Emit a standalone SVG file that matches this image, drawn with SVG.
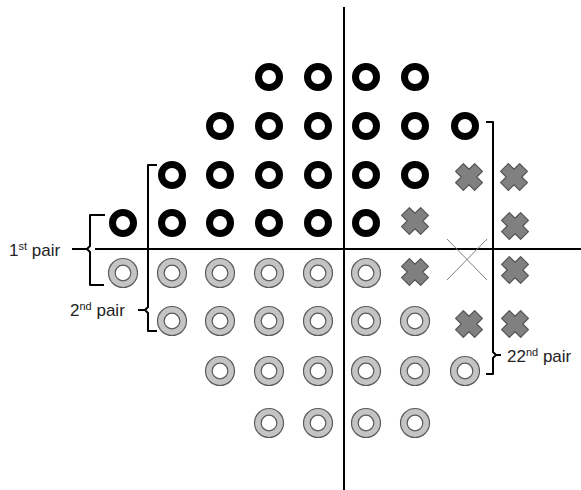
<svg xmlns="http://www.w3.org/2000/svg" xmlns:xlink="http://www.w3.org/1999/xlink" width="581" height="490" viewBox="0 0 581 490">
<style>
.blk{fill:none;stroke:#000;stroke-width:7}
.gry{fill:#c4c4c4;stroke:#5a5a5a;stroke-width:1.2}
.hole{fill:#fff;stroke:#5a5a5a;stroke-width:1.2}
.ax{stroke:#000;stroke-width:2;fill:none}
.br{stroke:#000;stroke-width:2;fill:none;stroke-linejoin:round}
.thin{stroke:#808080;stroke-width:1;fill:none}
.lbl{font-family:"Liberation Sans",Arial,sans-serif;font-size:17px;fill:#222}
.sup{font-size:11px}
</style>
<defs>
<g id="ring"><circle r="10.5" class="blk"/></g>
<g id="gring"><circle r="14.5" class="gry"/><circle r="7.8" class="hole"/></g>
<polygon id="cross" points="-5.5,-13.5 5.5,-13.5 5.5,-5.5 13.5,-5.5 13.5,5.5 5.5,5.5 5.5,13.5 -5.5,13.5 -5.5,5.5 -13.5,5.5 -13.5,-5.5 -5.5,-5.5" transform="rotate(45)" fill="#808080" stroke="#555" stroke-width="1.2" stroke-linejoin="round"/>
</defs>
<rect width="581" height="490" fill="#fff"/>
<g id="connectors">
<line class="ax" x1="95" y1="249" x2="581" y2="249"/>
<line class="ax" x1="344" y1="7" x2="344" y2="490"/>
<line class="thin" x1="447" y1="239" x2="487" y2="280"/>
<line class="thin" x1="487" y1="239" x2="447" y2="280"/>
<path class="br" d="M105,215 H90 V246 L87,249 L90,252 V285 H104"/>
<path class="br" d="M72,249 H87"/>
<path class="br" d="M157,165 H148 V307 L145,310 L148,313 V331 H157"/>
<path class="br" d="M138,310 H145"/>
<path class="br" d="M486,122 H493 V352 L496,355 L493,358 V374 H486"/>
<path class="br" d="M496,355 H501"/>
</g>
<g id="black-rings">
<use xlink:href="#ring" x="269" y="77"/><use xlink:href="#ring" x="318" y="77"/><use xlink:href="#ring" x="366" y="77"/><use xlink:href="#ring" x="415" y="77"/>
<use xlink:href="#ring" x="220" y="126"/><use xlink:href="#ring" x="269" y="126"/><use xlink:href="#ring" x="318" y="126"/><use xlink:href="#ring" x="366" y="126"/><use xlink:href="#ring" x="415" y="126"/><use xlink:href="#ring" x="465" y="126"/>
<use xlink:href="#ring" x="172" y="175"/><use xlink:href="#ring" x="220" y="175"/><use xlink:href="#ring" x="269" y="175"/><use xlink:href="#ring" x="318" y="175"/><use xlink:href="#ring" x="366" y="175"/><use xlink:href="#ring" x="415" y="175"/>
<use xlink:href="#ring" x="123" y="223"/><use xlink:href="#ring" x="172" y="223"/><use xlink:href="#ring" x="220" y="223"/><use xlink:href="#ring" x="269" y="223"/><use xlink:href="#ring" x="318" y="223"/><use xlink:href="#ring" x="366" y="223"/>
</g>
<g id="grey-rings">
<use xlink:href="#gring" x="123" y="273"/><use xlink:href="#gring" x="172" y="273"/><use xlink:href="#gring" x="220" y="273"/><use xlink:href="#gring" x="269" y="273"/><use xlink:href="#gring" x="318" y="273"/><use xlink:href="#gring" x="366" y="273"/>
<use xlink:href="#gring" x="172" y="321"/><use xlink:href="#gring" x="220" y="321"/><use xlink:href="#gring" x="269" y="321"/><use xlink:href="#gring" x="318" y="321"/><use xlink:href="#gring" x="366" y="321"/><use xlink:href="#gring" x="415" y="321"/>
<use xlink:href="#gring" x="220" y="371"/><use xlink:href="#gring" x="269" y="371"/><use xlink:href="#gring" x="318" y="371"/><use xlink:href="#gring" x="366" y="371"/><use xlink:href="#gring" x="415" y="371"/><use xlink:href="#gring" x="465" y="371"/>
<use xlink:href="#gring" x="269" y="423"/><use xlink:href="#gring" x="318" y="423"/><use xlink:href="#gring" x="366" y="423"/><use xlink:href="#gring" x="415" y="423"/>
</g>
<g id="crosses">
<use xlink:href="#cross" x="469" y="177"/><use xlink:href="#cross" x="514" y="177"/>
<use xlink:href="#cross" x="415" y="221"/><use xlink:href="#cross" x="515" y="226"/>
<use xlink:href="#cross" x="415" y="272"/><use xlink:href="#cross" x="515" y="270"/>
<use xlink:href="#cross" x="469" y="324"/><use xlink:href="#cross" x="515" y="324"/>
</g>
<g id="label-1st"><text class="lbl" x="9" y="256">1<tspan class="sup" dy="-6">st</tspan><tspan dy="6"> pair</tspan></text></g>
<g id="label-2nd"><text class="lbl" x="70" y="316">2<tspan class="sup" dy="-6">nd</tspan><tspan dy="6"> pair</tspan></text></g>
<g id="label-22nd"><text class="lbl" x="507" y="362">22<tspan class="sup" dy="-6">nd</tspan><tspan dy="6"> pair</tspan></text></g>
</svg>
